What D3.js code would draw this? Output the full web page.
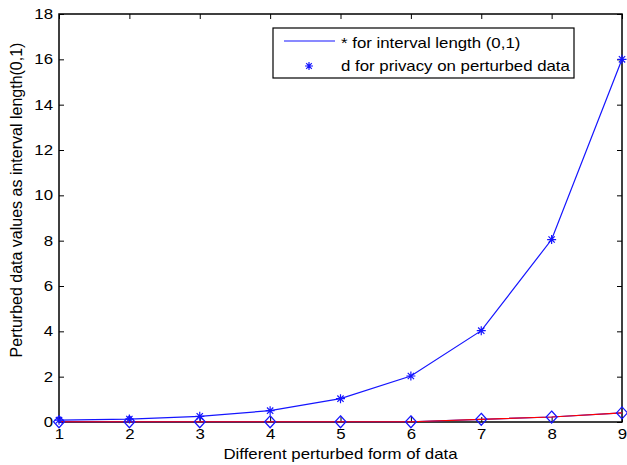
<!DOCTYPE html>
<html>
<head>
<meta charset="utf-8">
<script src="https://cdn.jsdelivr.net/npm/d3@7"></script>
<style>
  body { margin: 0; background: #fff; }
  text { font-family: "Liberation Sans", Arial, sans-serif; }
</style>
</head>
<body>
<svg width="627" height="465"></svg>
<script>
const forms = [1, 2, 3, 4, 5, 6, 7, 8, 9]
const intervalValues = [0.08, 0.13, 0.25, 0.5, 1.03, 2.03, 4.03, 8.05, 16.0]
const privacyValues = [0.01, 0.01, 0.01, 0.01, 0.01, 0.01, 0.12, 0.22, 0.4]
const yTicks = [0, 2, 4, 6, 8, 10, 12, 14, 16, 18]

const marginLeft = 59
const marginRight = 5
const marginTop = 14
const marginBottom = 43
const width = 627 - marginLeft - marginRight
const height = 465 - marginTop - marginBottom

// the reference text is drawn wide, so horizontal labels get stretched a bit
const fontSize = 14.5
const sx = 1.16

const svg = d3.select("svg")
const g = svg.append("g").attr("transform", `translate(${marginLeft}, ${marginTop})`)

const xScale = d3.scaleLinear().domain([1, 9]).range([0, width])
const yScale = d3.scaleLinear().domain([0, 18]).range([height, 0])

// axes, MATLAB style: ticks inward, on all four sides
const tickLen = 5
const styleAxis = sel => {
  sel.select(".domain").remove()
  sel.selectAll("line").attr("stroke", "#000")
  sel.selectAll("text").attr("font-size", fontSize).attr("fill", "#000")
}
g.append("g").attr("transform", `translate(0, ${height})`)
  .call(d3.axisBottom(xScale).tickValues(forms).tickFormat(d3.format("d")).tickSizeInner(-tickLen).tickPadding(7))
  .call(styleAxis)
  .selectAll("text").attr("transform", `scale(${sx}, 1)`)
g.append("g")
  .call(d3.axisLeft(yScale).tickValues(yTicks).tickSizeInner(-tickLen).tickPadding(6))
  .call(styleAxis)
  .selectAll("text").attr("x", -6 / sx).attr("transform", `scale(${sx}, 1)`)
g.append("g")
  .call(d3.axisTop(xScale).tickValues(forms).tickSizeInner(-tickLen).tickFormat(""))
  .call(styleAxis)
g.append("g").attr("transform", `translate(${width}, 0)`)
  .call(d3.axisRight(yScale).tickValues(yTicks).tickSizeInner(-tickLen).tickFormat(""))
  .call(styleAxis)

g.append("rect")
  .attr("width", width).attr("height", height)
  .attr("fill", "none").attr("stroke", "#000").attr("stroke-width", 1.5)

const line = d3.line().x((d, i) => xScale(forms[i])).y(d => yScale(d))

g.append("path").datum(intervalValues)
  .attr("d", line).attr("fill", "none").attr("stroke", "#1515ff").attr("stroke-width", 1.2)
g.append("path").datum(privacyValues)
  .attr("d", line).attr("fill", "none").attr("stroke", "#1515ff").attr("stroke-width", 1.2)
g.append("path").datum(privacyValues)
  .attr("d", line).attr("fill", "none").attr("stroke", "#ff0000").attr("stroke-width", 1.2)

const starPath = r => {
  const a = r * 0.7
  return `M${-r},0L${r},0M0,${-r}L0,${r}M${-a},${-a}L${a},${a}M${-a},${a}L${a},${-a}`
}

g.selectAll(".star").data(intervalValues).enter().append("path")
  .attr("class", "star")
  .attr("transform", (d, i) => `translate(${xScale(forms[i])}, ${yScale(d)})`)
  .attr("d", starPath(4.5))
  .attr("stroke", "#1515ff").attr("stroke-width", 1.2).attr("fill", "none")

g.selectAll(".diamond").data(privacyValues).enter().append("path")
  .attr("class", "diamond")
  .attr("transform", (d, i) => `translate(${xScale(forms[i])}, ${yScale(d)})`)
  .attr("d", "M0,-6L5.5,0L0,6L-5.5,0Z")
  .attr("stroke", "#1515ff").attr("stroke-width", 1.2).attr("fill", "none")

// legend
const legend = svg.append("g").attr("transform", "translate(273, 28)")
legend.append("rect").attr("width", 301).attr("height", 50)
  .attr("fill", "#fff").attr("stroke", "#000").attr("stroke-width", 1.2)
legend.append("line").attr("x1", 11).attr("x2", 62).attr("y1", 13).attr("y2", 13)
  .attr("stroke", "#1515ff").attr("stroke-width", 1.2)
legend.append("text").attr("transform", `translate(68, 20) scale(${sx}, 1)`)
  .attr("font-size", fontSize).text("* for interval length (0,1)")
legend.append("path").attr("transform", "translate(36, 38)").attr("d", starPath(4))
  .attr("stroke", "#1515ff").attr("stroke-width", 1.2).attr("fill", "none")
legend.append("text").attr("transform", `translate(68, 43) scale(${sx}, 1)`)
  .attr("font-size", fontSize).text("d for privacy on perturbed data")

// axis titles
svg.append("text").attr("transform", `translate(${marginLeft + width / 2}, 459) scale(${sx}, 1)`)
  .attr("text-anchor", "middle").attr("font-size", fontSize).text("Different perturbed form of data")
svg.append("text").attr("transform", "translate(22, 200) rotate(-90)")
  .attr("text-anchor", "middle").attr("font-size", 16).text("Perturbed data values as interval length(0,1)")
</script>
</body>
</html>
